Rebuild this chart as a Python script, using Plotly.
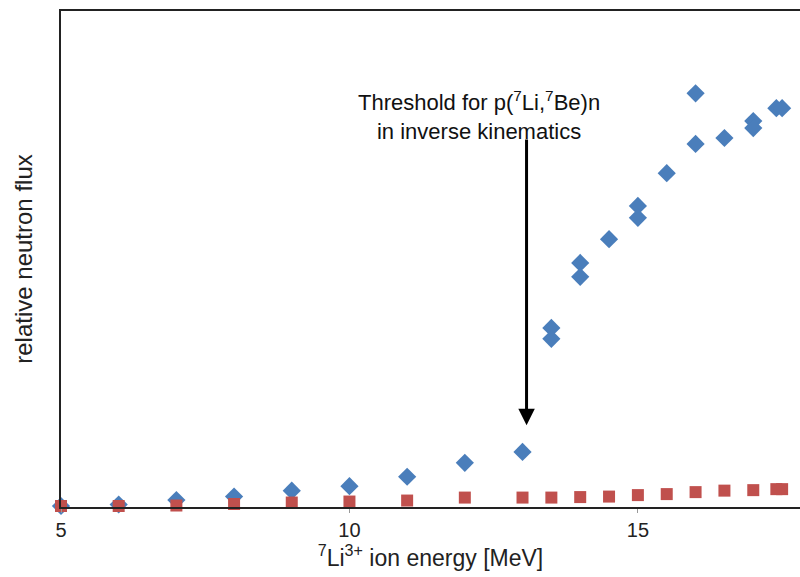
import plotly.graph_objects as go

# Data (relative units, top of axis = 100)
energy_blue = [5, 6, 7, 8, 9, 10, 11, 12, 13, 13.5, 13.5, 14, 14, 14.5, 15, 15, 15.5, 16, 16, 16.5, 17, 17, 17.4, 17.5]
flux_blue = [0.2, 0.5, 1.4, 2.1, 3.3, 4.2, 6.1, 8.9, 11.1, 36.1, 33.9, 49.2, 46.4, 54.0, 60.7, 58.3, 67.3, 83.4, 73.2, 74.4, 77.8, 76.4, 80.4, 80.4]

energy_red = [5, 6, 7, 8, 9, 10, 11, 12, 13, 13.5, 14, 14.5, 15, 15.5, 16, 16.5, 17, 17.4, 17.5]
flux_red = [0.2, 0.2, 0.3, 0.6, 0.9, 1.1, 1.3, 1.9, 1.9, 1.9, 2.0, 2.1, 2.4, 2.6, 3.0, 3.3, 3.4, 3.6, 3.6]

x_ticks = [5, 10, 15]
threshold_energy = 13.07
arrow_tip = 16.5
arrow_tail = 74.4

FONT = "Arial, Liberation Sans, sans-serif"

fig = go.Figure()
fig.add_trace(go.Scatter(
    x=energy_blue, y=flux_blue, mode="markers",
    marker=dict(symbol="diamond", size=14, color="#4A7EBB"),
    cliponaxis=False, showlegend=False,
))
fig.add_trace(go.Scatter(
    x=energy_red, y=flux_red, mode="markers",
    marker=dict(symbol="square", size=12, color="#C0504D"),
    cliponaxis=False, showlegend=False,
))

# arrow
fig.add_annotation(
    x=threshold_energy, y=arrow_tip, ax=threshold_energy, ay=arrow_tail,
    xref="x", yref="y", axref="x", ayref="y",
    text="", showarrow=True, arrowhead=2, arrowwidth=3, arrowsize=1.1,
    arrowcolor="black",
)
fig.add_annotation(
    x=12.25, y=79.0, xref="x", yref="y",
    text="Threshold for p(<sup>7</sup>Li,<sup>7</sup>Be)n<br>in inverse kinematics",
    showarrow=False, font=dict(family=FONT, size=22, color="#111"),
    align="center",
)

fig.update_layout(
    width=800, height=577,
    margin=dict(l=61, r=0, t=11, b=70),
    plot_bgcolor="white", paper_bgcolor="white",
    font=dict(family=FONT, color="#222"),
    xaxis=dict(
        range=[5, 17.81], tickvals=x_ticks, ticktext=[str(t) for t in x_ticks],
        showgrid=False, zeroline=False,
        showline=True, linecolor="#222", linewidth=2, mirror=True,
        ticks="outside", ticklen=4, tickcolor="#999", tickwidth=1,
        tickfont=dict(family=FONT, size=20, color="#222"),
        title=dict(text="<sup>7</sup>Li<sup>3+</sup> ion energy [MeV]",
                   font=dict(family=FONT, size=23, color="#222"), standoff=10),
    ),
    yaxis=dict(
        range=[0, 100], showticklabels=False, ticks="",
        showgrid=False, zeroline=False,
        showline=True, linecolor="#222", linewidth=2,
        title=dict(text="relative neutron flux",
                   font=dict(family=FONT, size=24, color="#222"), standoff=20),
    ),
)

fig.write_html("out.html")
